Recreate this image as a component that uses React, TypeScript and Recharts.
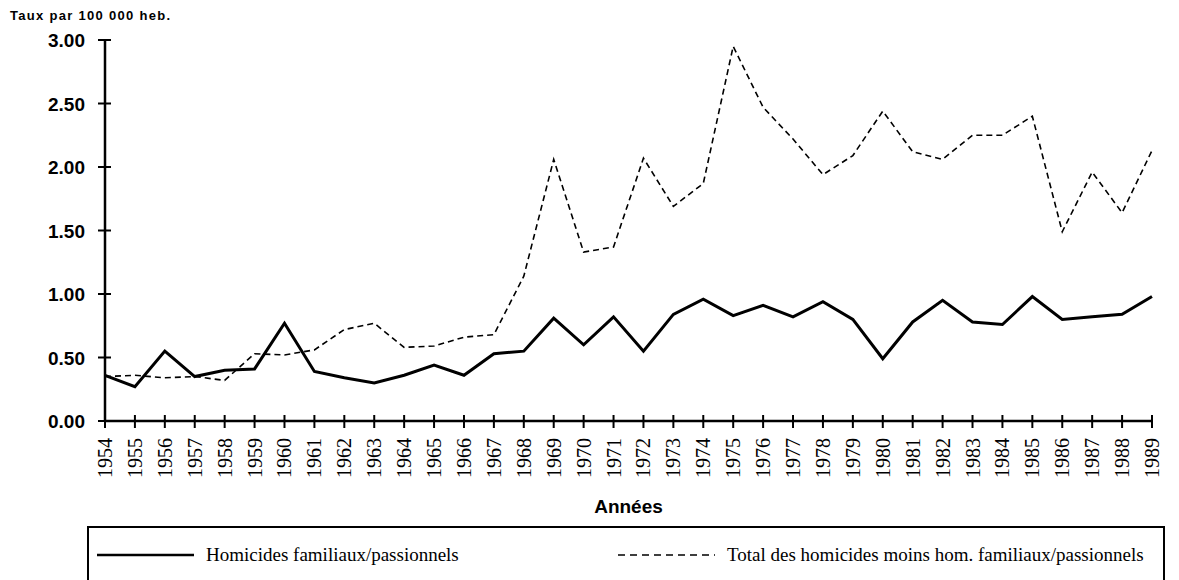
import { LineChart, Line, XAxis, YAxis } from 'recharts';

// Années 1954-1989
const years = [
  '1954', '1955', '1956', '1957', '1958', '1959', '1960', '1961', '1962',
  '1963', '1964', '1965', '1966', '1967', '1968', '1969', '1970', '1971',
  '1972', '1973', '1974', '1975', '1976', '1977', '1978', '1979', '1980',
  '1981', '1982', '1983', '1984', '1985', '1986', '1987', '1988', '1989',
];

// Homicides familiaux/passionnels (taux pour 100 000 hab.)
const familiaux = [
  0.36, 0.27, 0.55, 0.35, 0.4, 0.41, 0.77, 0.39, 0.34, 0.3, 0.36, 0.44, 0.36,
  0.53, 0.55, 0.81, 0.6, 0.82, 0.55, 0.84, 0.96, 0.83, 0.91, 0.82,
  0.94, 0.8, 0.49, 0.78, 0.95, 0.78, 0.76, 0.98, 0.8, 0.82, 0.84, 0.98,
];

// Total des homicides moins hom. familiaux/passionnels
const autres = [
  0.35, 0.36, 0.34, 0.35, 0.32, 0.53, 0.52, 0.56, 0.72, 0.77, 0.58, 0.59, 0.66,
  0.68, 1.14, 2.06, 1.33, 1.37, 2.07, 1.69, 1.87, 2.95, 2.47, 2.22,
  1.94, 2.09, 2.44, 2.12, 2.06, 2.25, 2.25, 2.4, 1.49, 1.96, 1.64, 2.13,
];

const yTicks = [0, 0.5, 1, 1.5, 2, 2.5, 3];

const seriesNames = [
  'Homicides familiaux/passionnels',
  'Total des homicides moins hom. familiaux/passionnels',
];

const data = years.map((year, i) => ({
  year,
  familiaux: familiaux[i],
  autres: autres[i],
}));

const SANS = '"Liberation Sans", Arial, sans-serif';
const SERIF = '"Liberation Serif", "Times New Roman", serif';

function YTick({ x, y, payload }: { x?: number; y?: number; payload?: { value: number } }) {
  if (x == null || y == null || !payload) return null;
  return (
    <g>
      <line x1={x - 7} x2={x + 6} y1={y} y2={y} stroke="#000" strokeWidth={2} />
      <text
        x={x - 20}
        y={y + 7}
        textAnchor="end"
        fontFamily={SANS}
        fontWeight="bold"
        fontSize={19}
        fill="#000"
      >
        {payload.value.toFixed(2)}
      </text>
    </g>
  );
}

function XTick({ x, y, payload }: { x?: number; y?: number; payload?: { value: string } }) {
  if (x == null || y == null || !payload) return null;
  const ax = x + 7;
  const ay = y + 17;
  return (
    <g>
      <line x1={x} x2={x} y1={y - 6} y2={y + 7} stroke="#000" strokeWidth={2} />
      <text
        x={ax}
        y={ay}
        textAnchor="end"
        transform={`rotate(-90 ${ax} ${ay})`}
        fontFamily={SERIF}
        fontSize={20}
        fill="#000"
      >
        {payload.value}
      </text>
    </g>
  );
}

function LegendItem({ left, dashed, name }: { left: number; dashed: boolean; name: string }) {
  return (
    <div
      style={{
        position: 'absolute',
        left,
        top: 16,
        display: 'flex',
        alignItems: 'center',
        whiteSpace: 'nowrap',
      }}
    >
      <svg width={97} height={10}>
        <line
          x1={0}
          x2={97}
          y1={5}
          y2={5}
          stroke="#000"
          strokeWidth={dashed ? 1.6 : 2.5}
          strokeDasharray={dashed ? '7 5' : undefined}
        />
      </svg>
      <span style={{ marginLeft: 12, fontFamily: SERIF, fontSize: 19, color: '#000' }}>{name}</span>
    </div>
  );
}

export default function App() {
  return (
    <div
      style={{
        position: 'absolute',
        left: 0,
        top: 0,
        width: 1179,
        height: 580,
        background: '#fff',
        overflow: 'hidden',
      }}
    >
      <LineChart
        width={1179}
        height={580}
        data={data}
        margin={{ top: 40, right: 27, left: 0, bottom: 0 }}
      >
        <XAxis
          dataKey="year"
          height={159}
          interval={0}
          tickSize={0}
          tickMargin={0}
          tickLine={false}
          tick={<XTick />}
          axisLine={{ stroke: '#000', strokeWidth: 2.5 }}
          label={({ viewBox }: { viewBox?: { x: number; y: number; width: number } }) =>
            viewBox ? (
              <text
                x={viewBox.x + viewBox.width / 2}
                y={viewBox.y + 92}
                textAnchor="middle"
                fontFamily={SANS}
                fontWeight="bold"
                fontSize={19}
                fill="#000"
              >
                Années
              </text>
            ) : null
          }
        />
        <YAxis
          width={105}
          domain={[0, 3]}
          ticks={yTicks}
          interval={0}
          tickSize={0}
          tickMargin={0}
          tickLine={false}
          tick={<YTick />}
          axisLine={{ stroke: '#000', strokeWidth: 2.5 }}
          label={({ viewBox }: { viewBox?: { x: number; y: number } }) =>
            viewBox ? (
              <text
                x={viewBox.x + 10}
                y={viewBox.y - 20}
                fontFamily={SANS}
                fontWeight="bold"
                fontSize={13}
                letterSpacing={1.3}
                fill="#000"
              >
                Taux par 100 000 heb.
              </text>
            ) : null
          }
        />
        <Line
          type="linear"
          dataKey="autres"
          name={seriesNames[1]}
          stroke="#000"
          strokeWidth={1.6}
          strokeDasharray="6 4"
          dot={false}
          isAnimationActive={false}
        />
        <Line
          type="linear"
          dataKey="familiaux"
          name={seriesNames[0]}
          stroke="#000"
          strokeWidth={3}
          dot={false}
          isAnimationActive={false}
        />
      </LineChart>
      <div
        style={{
          position: 'absolute',
          left: 87,
          top: 526,
          width: 1074,
          height: 80,
          borderTop: '2px solid #000',
          borderLeft: '2px solid #000',
          borderRight: '2px solid #000',
        }}
      >
        <LegendItem left={8} dashed={false} name={seriesNames[0]} />
        <LegendItem left={529} dashed={true} name={seriesNames[1]} />
      </div>
    </div>
  );
}
